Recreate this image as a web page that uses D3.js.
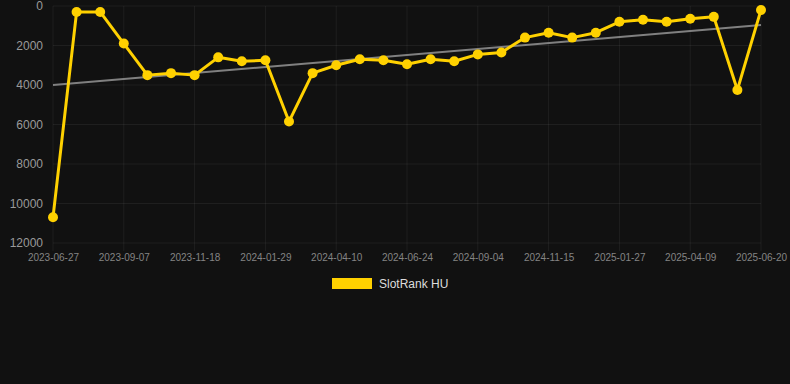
<!DOCTYPE html>
<html lang="en">
<head>
    <meta charset="UTF-8">
    <title>SlotRank HU</title>
    <script src="https://d3js.org/d3.v7.min.js"></script>
    <style>
        html, body { margin: 0; padding: 0; background: #111111; }
        svg { display: block; }
        text { font-family: "Liberation Sans", Arial, sans-serif; }
    </style>
</head>
<body>
    <svg id="chart" width="790" height="384"></svg>

    <script>
        // Dates (category axis), one per point
        const dates = [
            "2023-06-27", "2023-07-21", "2023-08-14", "2023-09-07", "2023-10-01", "2023-10-25",
            "2023-11-18", "2023-12-12", "2024-01-05", "2024-01-29", "2024-02-22", "2024-03-17",
            "2024-04-10", "2024-05-05", "2024-05-30", "2024-06-24", "2024-07-18", "2024-08-11",
            "2024-09-04", "2024-09-28", "2024-10-22", "2024-11-15", "2024-12-09", "2025-01-03",
            "2025-01-27", "2025-02-20", "2025-03-16", "2025-04-09", "2025-05-03", "2025-05-27",
            "2025-06-20"
        ];
        // Rank values
        const ranks = [
            10700, 300, 300, 1900, 3500, 3400,
            3500, 2600, 2800, 2750, 5850, 3400,
            3000, 2700, 2750, 2950, 2700, 2800,
            2450, 2350, 1600, 1350, 1600, 1350,
            800, 700, 800, 650, 550, 4250,
            200
        ];
        // Trend line end values (first and last date)
        const trend = [4000, 960];
        const yTicks = [0, 2000, 4000, 6000, 8000, 10000, 12000];
        const seriesName = "SlotRank HU";

        const lineColor = "#FFD100";
        const gridColor = "rgba(255,255,255,0.06)";

        const svg = d3.select("#chart");
        const plotLeft = 53, plotRight = 761, plotTop = 6, plotBottom = 243;

        const x = d3.scalePoint().domain(dates).range([plotLeft, plotRight]);
        const y = d3.scaleLinear().domain([0, 12000]).range([plotTop, plotBottom]);

        // horizontal grid
        svg.append("g")
            .selectAll("line")
            .data(yTicks)
            .enter().append("line")
            .attr("x1", plotLeft).attr("x2", plotRight)
            .attr("y1", d => y(d)).attr("y2", d => y(d))
            .attr("stroke", gridColor);

        // vertical grid, every 3rd category
        const xTickDates = dates.filter((d, i) => i % 3 === 0);
        svg.append("g")
            .selectAll("line")
            .data(xTickDates)
            .enter().append("line")
            .attr("x1", d => x(d)).attr("x2", d => x(d))
            .attr("y1", plotTop).attr("y2", plotBottom + 8)
            .attr("stroke", gridColor);

        // y axis labels
        const yAxis = d3.axisLeft(y).tickValues(yTicks).tickFormat(d3.format("d"))
            .tickSize(0).tickPadding(10);
        svg.append("g")
            .attr("transform", `translate(${plotLeft},0)`)
            .call(yAxis)
            .call(g => g.select(".domain").remove())
            .call(g => g.selectAll("text")
                .attr("fill", "#9a9a9a")
                .style("font-size", "12px")
                .style("font-family", "'Liberation Sans', Arial, sans-serif"));

        // x axis labels
        const xAxis = d3.axisBottom(x).tickValues(xTickDates).tickSize(0).tickPadding(11);
        svg.append("g")
            .attr("transform", `translate(0,${plotBottom})`)
            .call(xAxis)
            .call(g => g.select(".domain").remove())
            .call(g => g.selectAll("text")
                .attr("fill", "#848484")
                .style("font-size", "10px")
                .style("font-family", "'Liberation Sans', Arial, sans-serif"));

        // trend line
        svg.append("line")
            .attr("x1", x(dates[0])).attr("y1", y(trend[0]))
            .attr("x2", x(dates[dates.length - 1])).attr("y2", y(trend[1]))
            .attr("stroke", "#808080")
            .attr("stroke-width", 2);

        // main line
        const line = d3.line()
            .x((d, i) => x(dates[i]))
            .y(d => y(d));

        svg.append("path")
            .datum(ranks)
            .attr("d", line)
            .attr("fill", "none")
            .attr("stroke", lineColor)
            .attr("stroke-width", 3)
            .attr("stroke-linejoin", "round");

        svg.append("g")
            .selectAll("circle")
            .data(ranks)
            .enter().append("circle")
            .attr("cx", (d, i) => x(dates[i]))
            .attr("cy", d => y(d))
            .attr("r", 5)
            .attr("fill", lineColor);

        // legend
        const legend = svg.append("g").attr("transform", "translate(332,278)");
        legend.append("rect")
            .attr("width", 40).attr("height", 11)
            .attr("fill", lineColor);
        legend.append("text")
            .attr("x", 47).attr("y", 6)
            .attr("dy", "0.35em")
            .attr("fill", "#ddd")
            .style("font-size", "12px")
            .text(seriesName);
    </script>
</body>
</html>
